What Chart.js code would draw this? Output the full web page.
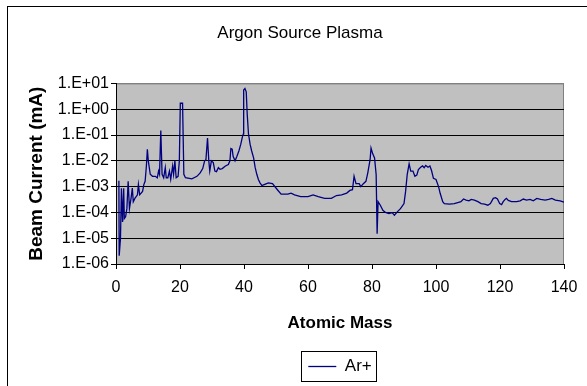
<!DOCTYPE html>
<html>
<head>
<meta charset="utf-8">
<script src="https://cdn.jsdelivr.net/npm/chart.js@4.4.0/dist/chart.umd.min.js"></script>
<style>
  body { margin: 0; background: #fff; }
  #wrap { position: relative; width: 587px; height: 386px; overflow: hidden; }
  #frame { position: absolute; left: 7px; top: 6px; width: 620px; height: 420px; border-left: 1px solid #000; border-top: 1px solid #000; }
  canvas { position: absolute; left: 0; top: 0; }
</style>
</head>
<body>
<div id="wrap"><div id="frame"></div><canvas id="chart" width="587" height="386"></canvas></div>
<script>
// atomic mass (amu) vs beam current (mA)
const masses = [
  0.9, 1.0, 1.4, 1.7, 2.05, 2.4, 2.6, 3.0, 3.4, 3.8, 4.2, 4.7, 5.1, 5.4, 5.9, 6.7, 7.0, 7.4, 8.3, 8.7,
  9.1, 9.5, 9.8, 10.1, 10.7, 11.4, 12.3, 12.9, 13.3, 13.6, 14.0, 14.4, 14.9, 15.4, 15.7, 16.2, 16.7, 17.1, 17.7, 18.0,
  18.4, 18.8, 19.4, 19.8, 20.1, 20.8, 21.2, 21.7, 23.7, 25.3, 26.3, 27.1, 27.7, 28.1, 28.6, 29.0, 29.3, 29.8, 30.4, 30.9,
  31.4, 32.0, 32.5, 33.2, 34.2, 35.1, 35.6, 35.9, 36.3, 36.6, 37.2, 37.7, 38.4, 39.0, 39.5, 39.8, 39.9, 40.3, 40.7, 41.0,
  41.4, 41.9, 42.4, 43.0, 43.5, 44.0, 44.5, 45.0, 45.6, 46.3, 47.6, 48.9, 50.5, 51.6, 53.7, 54.7, 55.8, 57.7, 60.0, 61.6,
  63.2, 65.2, 67.3, 68.9, 70.5, 72.1, 73.1, 73.9, 74.4, 75.0, 76.0, 76.5, 77.3, 78.1, 78.7, 79.4, 79.7, 80.2, 80.8, 81.3,
  81.6, 81.9, 82.6, 83.4, 84.2, 85.3, 86.3, 87.0, 87.9, 88.9, 90.0, 90.5, 91.0, 91.6, 92.1, 92.8, 93.4, 94.0, 94.5, 95.2,
  95.8, 96.3, 96.8, 97.5, 98.1, 98.6, 99.2, 100.0, 100.8, 101.3, 102.1, 102.6, 104.2, 105.7, 106.8, 107.8, 108.6, 109.4, 110.3, 111.0,
  112.0, 113.1, 114.1, 115.2, 116.2, 117.0, 117.9, 118.6, 119.2, 119.9, 120.5, 121.0, 121.6, 122.0, 122.6, 123.6, 125.2, 126.3, 127.3, 128.3,
  129.4, 130.4, 131.5, 132.7, 134.1, 135.2, 136.2, 137.3, 138.8, 140.0
];
const currents = [
  1.7e-3, 2.1e-6, 1.0e-5, 8.7e-4, 4.3e-5, 8.7e-4, 5.8e-5, 6.8e-5, 1.4e-4, 1.6e-3, 1.4e-4, 3.5e-4, 8.7e-4, 2.6e-4, 3.5e-4, 4.8e-4, 1.2e-3, 4.8e-4, 6.5e-4, 1.2e-3,
  1.6e-3, 6.3e-3, 2.8e-2, 9.8e-3, 3.0e-3, 2.5e-3, 2.5e-3, 2.2e-3, 4.0e-3, 3.0e-3, 1.5e-1, 3.0e-3, 2.2e-3, 5.4e-3, 2.2e-3, 2.2e-3, 4.0e-3, 1.9e-3, 6.3e-3, 3.0e-3,
  1.0e-2, 2.2e-3, 2.5e-3, 1.0e-2, 1.7, 1.7, 3.0e-3, 2.2e-3, 2.0e-3, 2.5e-3, 3.4e-3, 5.0e-3, 1.0e-2, 1.1e-2, 7.6e-2, 1.0e-2, 4.0e-3, 1.0e-2, 8.5e-3, 4.0e-3,
  3.8e-3, 5.4e-3, 4.7e-3, 5.0e-3, 6.3e-3, 7.2e-3, 1.0e-2, 3.0e-2, 2.8e-2, 1.5e-2, 1.0e-2, 1.4e-2, 2.4e-2, 4.4e-2, 8.5e-2, 1.1e-1, 5.5, 6.3, 4.7, 6.6e-1,
  1.1e-1, 4.4e-2, 2.4e-2, 1.3e-2, 5.4e-3, 3.0e-3, 1.9e-3, 1.4e-3, 1.1e-3, 1.2e-3, 1.4e-3, 1.3e-3, 7.4e-4, 5.1e-4, 5.1e-4, 5.6e-4, 4.8e-4, 4.1e-4, 4.1e-4, 4.8e-4,
  4.1e-4, 3.5e-4, 3.5e-4, 4.5e-4, 4.8e-4, 5.6e-4, 7.1e-4, 7.6e-4, 2.5e-3, 1.3e-3, 1.3e-3, 1.0e-3, 1.3e-3, 1.6e-3, 3.5e-3, 1.1e-2, 3.1e-2, 1.9e-2, 1.3e-2, 2.9e-3,
  1.5e-5, 2.6e-4, 1.9e-4, 1.2e-4, 1.0e-4, 9.1e-5, 9.8e-5, 7.8e-5, 1.05e-4, 1.4e-4, 2.2e-4, 6.5e-4, 2.9e-3, 7.6e-3, 4.0e-3, 4.0e-3, 2.5e-3, 2.8e-3, 4.6e-3, 5.6e-3,
  6.3e-3, 5.4e-3, 6.6e-3, 5.6e-3, 6.3e-3, 4.2e-3, 2.1e-3, 1.9e-3, 1.0e-3, 5.5e-4, 2.6e-4, 2.2e-4, 2.1e-4, 2.2e-4, 2.4e-4, 2.6e-4, 3.3e-4, 3.0e-4, 2.8e-4, 3.2e-4,
  3.0e-4, 2.6e-4, 2.2e-4, 2.1e-4, 1.9e-4, 2.2e-4, 3.5e-4, 3.7e-4, 3.3e-4, 2.2e-4, 2.0e-4, 2.6e-4, 3.2e-4, 3.5e-4, 2.9e-4, 2.6e-4, 2.6e-4, 2.8e-4, 3.3e-4, 3.0e-4,
  3.2e-4, 2.8e-4, 3.5e-4, 3.2e-4, 3.0e-4, 3.2e-4, 3.5e-4, 3.0e-4, 2.8e-4, 2.5e-4
];
const xTicks = [0, 20, 40, 60, 80, 100, 120, 140];
const yTicks = [1e-6, 1e-5, 1e-4, 1e-3, 1e-2, 1e-1, 1, 10];

const FONT = '"Liberation Sans", Arial, sans-serif';

// excel style "1.E-03"
function sci(v) {
  const e = Math.round(Math.log10(v));
  return '1.E' + (e < 0 ? '-' : '+') + String(Math.abs(e)).padStart(2, '0');
}

const plotBg = {
  id: 'plotBg',
  beforeDraw(chart) {
    const { ctx, chartArea: a } = chart;
    ctx.save();
    ctx.fillStyle = '#c0c0c0';
    ctx.fillRect(a.left, a.top, a.right - a.left, a.bottom - a.top);
    ctx.strokeStyle = '#808080';
    ctx.lineWidth = 1;
    ctx.beginPath();
    ctx.moveTo(a.left, a.top + 0.5);
    ctx.lineTo(a.right - 0.5, a.top + 0.5);
    ctx.lineTo(a.right - 0.5, a.bottom);
    ctx.stroke();
    ctx.restore();
  }
};

const legendBox = {
  id: 'legendBox',
  afterDraw(chart) {
    const hb = chart.legend.legendHitBoxes[0];
    if (!hb) return;
    const ctx = chart.ctx;
    ctx.save();
    ctx.strokeStyle = '#000';
    ctx.lineWidth = 1;
    ctx.strokeRect(Math.round(hb.left - 7) + 0.5, Math.round(hb.top - 7) + 0.5, Math.round(hb.width + 12), Math.round(hb.height + 13));
    ctx.restore();
  }
};

new Chart(document.getElementById('chart'), {
  type: 'line',
  data: {
    datasets: [{
      label: 'Ar+',
      data: masses.map((m, i) => ({ x: m, y: currents[i] })),
      borderColor: '#000080',
      backgroundColor: '#000080',
      borderWidth: 1.3,
      pointRadius: 0,
      tension: 0,
      fill: false
    }]
  },
  options: {
    responsive: false,
    animation: false,
    layout: { padding: { left: 36, right: 23, top: 0, bottom: 1 } },
    plugins: {
      title: {
        display: true,
        text: 'Argon Source Plasma',
        color: '#000',
        font: { family: FONT, size: 17, weight: 'normal' },
        padding: { top: 23, bottom: 40 }
      },
      legend: {
        position: 'bottom',
        fullSize: false,
        labels: {
          usePointStyle: true,
          pointStyle: 'line',
          pointStyleWidth: 28,
          color: '#000',
          font: { family: FONT, size: 17 }
        }
      },
      tooltip: { enabled: false }
    },
    scales: {
      x: {
        type: 'linear',
        min: 0,
        max: 140,
        afterFit: s => { s.height = 84; },
        afterBuildTicks: s => { s.ticks = xTicks.map(v => ({ value: v })); },
        ticks: { color: '#000', font: { family: FONT, size: 16 }, padding: 9, maxRotation: 0 },
        grid: { drawOnChartArea: false, drawTicks: true, tickLength: 5, tickColor: '#000' },
        border: { color: '#000' },
        title: {
          display: true,
          text: 'Atomic Mass',
          color: '#000',
          font: { family: FONT, size: 17, weight: 'bold' },
          padding: { top: 0, bottom: 14 }
        }
      },
      y: {
        type: 'logarithmic',
        min: 1e-6,
        max: 10,
        afterFit: s => { s.width = 80; },
        afterBuildTicks: s => { s.ticks = yTicks.map(v => ({ value: v })); },
        ticks: { color: '#000', font: { family: FONT, size: 16 }, padding: 2, autoSkip: false, callback: v => sci(v) },
        grid: {
          color: c => (c.tick && c.tick.value === 10 ? '#808080' : '#000'),
          tickColor: '#000',
          tickLength: 5
        },
        border: { color: '#000' },
        title: {
          display: true,
          text: 'Beam Current (mA)',
          color: '#000',
          font: { family: FONT, size: 19, weight: 'bold' },
          padding: { top: -11, bottom: 0 }
        }
      }
    }
  },
  plugins: [plotBg, legendBox]
});
</script>
</body>
</html>
